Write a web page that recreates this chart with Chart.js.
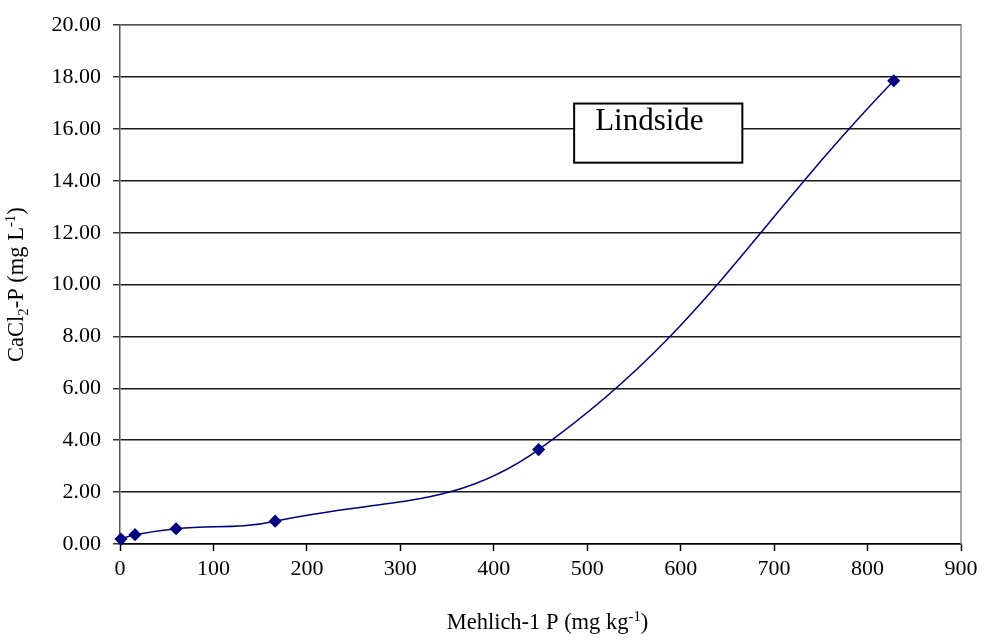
<!DOCTYPE html>
<html>
<head>
<meta charset="utf-8">
<script src="https://cdn.jsdelivr.net/npm/chart.js@4.4.1/dist/chart.umd.min.js"></script>
<style>
  html, body { margin: 0; padding: 0; background: #ffffff; }
  #wrap { width: 985px; height: 642px; }
</style>
</head>
<body>
<div id="wrap"><canvas id="c" width="985" height="642"></canvas></div>
<script>
// Mehlich-1 P (mg/kg) against CaCl2-extractable P (mg/L), Lindside soil
const mehlichP = [1, 16, 60, 166, 448, 828];
const cacl2P = [0.19, 0.36, 0.59, 0.88, 3.64, 17.86];
const soilName = 'Lindside';
const FONT = '"Liberation Serif", "Times New Roman", serif';

// Text with a raised or lowered part, drawn piece by piece
function drawRich(ctx, parts, size) {
  let w = 0;
  parts.forEach(p => {
    ctx.font = (p.s ? size * 0.66 : size) + 'px ' + FONT;
    p.w = ctx.measureText(p.t).width;
    w += p.w;
  });
  return { w, draw(x, y) {
    let cx = x;
    parts.forEach(p => {
      ctx.font = (p.s ? size * 0.66 : size) + 'px ' + FONT;
      const dy = p.s === 'sup' ? -size * 0.36 : p.s === 'sub' ? size * 0.2 : 0;
      ctx.fillText(p.t, cx, y + dy);
      cx += p.w;
    });
  }};
}

const framePlugin = {
  id: 'frame',
  afterDraw(chart) {
    const { ctx, chartArea: a, scales: { x, y } } = chart;
    ctx.save();
    // top and right edges of the plot area
    ctx.strokeStyle = '#8a8a8a';
    ctx.lineWidth = 1.5;
    ctx.beginPath();
    ctx.moveTo(a.left, a.top);
    ctx.lineTo(a.right, a.top);
    ctx.lineTo(a.right, a.bottom);
    ctx.stroke();

    // soil label box
    const bx0 = x.getPixelForValue(486), bx1 = x.getPixelForValue(666);
    const by0 = y.getPixelForValue(16.98), by1 = y.getPixelForValue(14.7);
    ctx.fillStyle = '#ffffff';
    ctx.fillRect(bx0, by0, bx1 - bx0, by1 - by0);
    ctx.strokeStyle = '#000000';
    ctx.lineWidth = 2;
    ctx.strokeRect(bx0, by0, bx1 - bx0, by1 - by0);
    ctx.fillStyle = '#000000';
    ctx.font = '31px ' + FONT;
    ctx.textBaseline = 'alphabetic';
    ctx.textAlign = 'left';
    ctx.fillText(soilName, bx0 + 21, by0 + 26);

    // axis titles
    ctx.fillStyle = '#000000';
    const xt = drawRich(ctx, [{ t: 'Mehlich-1 P (mg kg' }, { t: '-1', s: 'sup' }, { t: ')' }], 22.5);
    xt.draw((a.left + a.right) / 2 - xt.w / 2 + 7, 629);

    ctx.translate(23, (a.top + a.bottom) / 2);
    ctx.rotate(-Math.PI / 2);
    const yt = drawRich(ctx, [{ t: 'CaCl' }, { t: '2', s: 'sub' }, { t: '-P (mg L' }, { t: '-1', s: 'sup' }, { t: ')' }], 22.5);
    yt.draw(-yt.w / 2, 0);
    ctx.restore();
  }
};

new Chart(document.getElementById('c'), {
  type: 'line',
  data: {
    datasets: [{
      data: mehlichP.map((v, i) => ({ x: v, y: cacl2P[i] })),
      borderColor: '#000080',
      backgroundColor: '#000080',
      borderWidth: 1.5,
      tension: 0.4,
      pointStyle: 'rectRot',
      pointRadius: 5.5,
      pointHoverRadius: 5.5,
      clip: false
    }]
  },
  options: {
    responsive: false,
    animation: false,
    devicePixelRatio: 1,
    layout: { padding: { left: 0, right: 24, top: 21, bottom: 0 } },
    plugins: { legend: { display: false }, tooltip: { enabled: false } },
    scales: {
      x: {
        type: 'linear',
        min: 0, max: 900,
        afterFit(s) { s.height = 98; },
        ticks: { stepSize: 100, color: '#000', font: { family: FONT, size: 22 }, padding: 5,
                 maxRotation: 0, callback: v => String(v) },
        grid: { drawOnChartArea: false, drawTicks: true, tickLength: 7, tickColor: '#000', tickWidth: 1.5 },
        border: { color: '#000', width: 1.5 }
      },
      y: {
        type: 'linear',
        min: 0, max: 20,
        afterFit(s) { s.width = 120; },
        ticks: { stepSize: 2, color: '#000', font: { family: FONT, size: 22 }, padding: 12,
                 callback: v => v.toFixed(2) },
        grid: { color: '#1a1a1a', lineWidth: 1.5, drawTicks: true, tickLength: 7, tickColor: '#333' },
        border: { color: '#555', width: 1.5 }
      }
    }
  },
  plugins: [framePlugin]
});
</script>
</body>
</html>
